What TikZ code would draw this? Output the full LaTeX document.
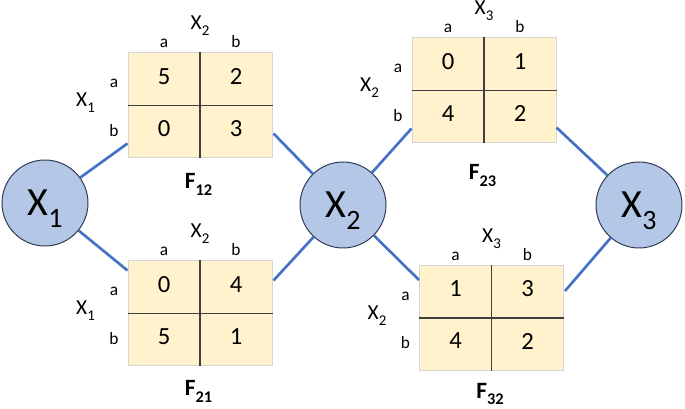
\documentclass[tikz,border=0pt]{standalone}
\usepackage{fontspec}
\setmainfont{Carlito}
\usepackage{graphicx}
\usetikzlibrary{calc}
\definecolor{cellfill}{HTML}{FFF2CC}
\definecolor{cellborder}{HTML}{D6D6D6}
\definecolor{divline}{HTML}{3F3F3F}
\definecolor{nodefill}{HTML}{B4C7E7}
\definecolor{nodeborder}{HTML}{2F3B55}
\definecolor{edgecol}{HTML}{4472C4}

\newcommand\mysub[1]{\raisebox{-0.28em}{\scalebox{0.7}{#1}}}

\tikzset{
  varnode/.style={circle, draw=nodeborder, line width=0.75pt, fill=nodefill,
    minimum size=64.5pt, inner sep=0pt, font=\fontsize{30}{32}\selectfont},
  tablebox/.style={rectangle, draw=cellborder, fill=cellfill, line width=0.75pt,
    minimum width=108pt, minimum height=78.75pt, inner sep=0pt},
  divider/.style={draw=divline, line width=0.9pt},
  edge/.style={draw=edgecol, line width=2pt},
  numtxt/.style={font=\fontsize{18.5}{20}\selectfont, inner sep=0pt},
  valtxt/.style={font=\fontsize{13}{15}\selectfont, inner sep=0pt, anchor=base},
  vartxt/.style={font=\fontsize{16}{18}\selectfont, inner sep=0pt, anchor=base},
  titletxt/.style={font=\bfseries\fontsize{17.5}{20}\selectfont, inner sep=0pt, anchor=base},
}

% #1 name, #2 cx, #3 cy, #4..#7 cell values, #8 row var index, #9 col var index
\newcommand\ftable[9]{%
  \node[tablebox] (#1) at (#2,#3) {};
  \draw[divider] (#1.north) -- (#1.south);
  \draw[divider] (#1.west) -- (#1.east);
  \node[numtxt] (#1-c11) at ($(#1.center)+(-36,-29)$) {#4};
  \node[numtxt] (#1-c12) at ($(#1.center)+(36,-29)$) {#5};
  \node[numtxt] (#1-c21) at ($(#1.center)+(-36,23)$) {#6};
  \node[numtxt] (#1-c22) at ($(#1.center)+(36,23)$) {#7};
  \node[valtxt] (#1-ca) at ($(#1.center)+(-36,-57.5)$) {a};
  \node[valtxt] (#1-cb) at ($(#1.center)+(36,-57.5)$) {b};
  \node[valtxt] (#1-ra) at ($(#1.center)+(-86,-17.5)$) {a};
  \node[valtxt] (#1-rb) at ($(#1.center)+(-86,31)$) {b};
  \node[vartxt] (#1-rv) at ($(#1.center)+(-114.5,1.5)$) {X\mysub{#8}};
  \node[vartxt] (#1-cv) at ($(#1.center)+(0,-75.5)$) {X\mysub{#9}};
}

\begin{document}
\begin{tikzpicture}[x=0.75pt,y=-0.75pt]
  \useasboundingbox (0,0) rectangle (685,409);

  \ftable{f12}{200}{105.5}{5}{2}{0}{3}{1}{2}
  \ftable{f21}{200}{313.5}{0}{4}{5}{1}{1}{2}
  \ftable{f23}{484}{90.5}{0}{1}{4}{2}{2}{3}
  \ftable{f32}{491.5}{318}{1}{3}{4}{2}{2}{3}

  \node[titletxt] (t12) at (198.5,189) {F\mysub{12}};
  \node[titletxt] (t21) at (198.5,396) {F\mysub{21}};
  \node[titletxt] (t23) at (482.5,180) {F\mysub{23}};
  \node[titletxt] (t32) at (490,398) {F\mysub{32}};

  \node[varnode] (x1) at (45,203) {X\smash{\mysub{1}}};
  \node[varnode] (x2) at (343,205) {X\smash{\mysub{2}}};
  \node[varnode] (x3) at (639,205) {X\smash{\mysub{3}}};

  \coordinate (e1) at ($(f12.south west)+(0,-15)$);
  \coordinate (e2) at ($(f12.south east)+(1,-25)$);
  \coordinate (e3) at ($(f21.north west)+(0,10)$);
  \coordinate (e4) at ($(f21.north east)+(1,20)$);
  \coordinate (e5) at ($(f23.south west)+(0,-15)$);
  \coordinate (e6) at ($(f23.south east)+(0,-16)$);
  \coordinate (e7) at ($(f32.north west)+(0,15)$);
  \coordinate (e8) at ($(f32.north east)+(1,26)$);

  \draw[edge] (x1) -- (e1);
  \draw[edge] (e2) -- (x2);
  \draw[edge] (x1) -- (e3);
  \draw[edge] (e4) -- (x2);
  \draw[edge] (x2) -- (e5);
  \draw[edge] (e6) -- (x3);
  \draw[edge] (x2) -- (e7);
  \draw[edge] (e8) -- (x3);
\end{tikzpicture}
\end{document}
